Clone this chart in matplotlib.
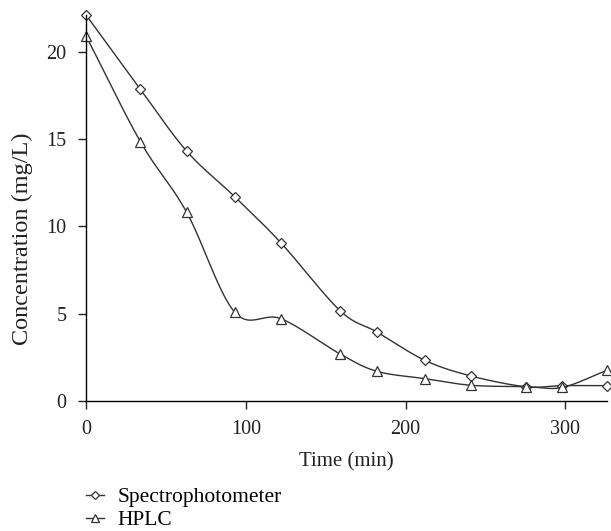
import matplotlib.pyplot as plt
import numpy as np

plt.rcParams["font.family"] = ["Liberation Serif", "DejaVu Serif"]

# sampling times (min)
time_min = [0, 34, 63, 93, 122, 159, 182, 212, 241, 275, 298, 326]

# concentration (mg/L)
spectro = [22.1, 17.85, 14.3, 11.7, 9.05, 5.17, 3.95, 2.33, 1.43, 0.82, 0.88, 0.88]
hplc = [20.9, 14.85, 10.8, 5.09, 4.71, 2.69, 1.70, 1.28, 0.90, 0.82, 0.78, 1.76]


def smooth(xs, ys, n=30):
    """Parametric Catmull-Rom curve through the points (spreadsheet-style smoothing)."""
    p = np.column_stack([xs, ys]).astype(float)
    # scale so the parameterisation does not depend on axis units
    sc = np.array([1.0 / (max(xs) - min(xs)), 1.0 / (max(ys) - min(ys))])
    q = p * sc
    q = np.vstack([2 * q[0] - q[1], q, 2 * q[-1] - q[-2]])
    out = []
    t = np.linspace(0, 1, n)[:, None]
    for i in range(1, len(q) - 2):
        p0, p1, p2, p3 = q[i - 1], q[i], q[i + 1], q[i + 2]
        seg = 0.5 * ((2 * p1)
                     + (-p0 + p2) * t
                     + (2 * p0 - 5 * p1 + 4 * p2 - p3) * t ** 2
                     + (-p0 + 3 * p1 - 3 * p2 + p3) * t ** 3)
        out.append(seg if i == 1 else seg[1:])
    c = np.vstack(out) / sc
    return c[:, 0], c[:, 1]


fig = plt.figure(figsize=(6.11, 5.31), dpi=100)
ax = fig.add_axes([0.1408, 0.2448, 0.8527, 0.727])

col = "#333333"
txt = "#222222"
for ys, mk, ms, lab in [(spectro, "D", 5, "Spectrophotometer"), (hplc, "^", 7, "HPLC")]:
    sx, sy = smooth(time_min, ys)
    ax.plot(sx, sy, color=col, lw=1.0)
    ax.plot(time_min, ys, ls="none", marker=mk, ms=ms, mfc="white", mec=col, mew=0.9, clip_on=False)
    ax.plot([], [], color=col, lw=1.0, marker=mk, ms=ms - 1, mfc="white", mec=col, mew=0.9, label=lab)

ax.set_xlim(0, 326)
ax.set_ylim(0, 22.1)
ax.set_xticks([0, 100, 200, 300])
ax.set_yticks([0, 5, 10, 15, 20])
for s in ["top", "right"]:
    ax.spines[s].set_visible(False)
for s in ["left", "bottom"]:
    ax.spines[s].set_linewidth(1.0)
ax.tick_params(direction="out", length=6, width=1.0, labelsize=14.5, colors=txt, pad=8)

ax.set_xlabel("Time (min)", fontsize=15, labelpad=9, color=txt)
ax.set_ylabel("Concentration (mg/L)", fontsize=17.5, color=txt)
ax.yaxis.set_label_coords(-0.102, 0.42)

fig.legend(loc="upper left", bbox_to_anchor=(86 / 611, 1 - 487 / 531), frameon=False,
           fontsize=15.5, handlelength=0.85, handletextpad=0.6, labelspacing=0.15,
           borderpad=0, borderaxespad=0)

fig.savefig("out.png", dpi=100)
